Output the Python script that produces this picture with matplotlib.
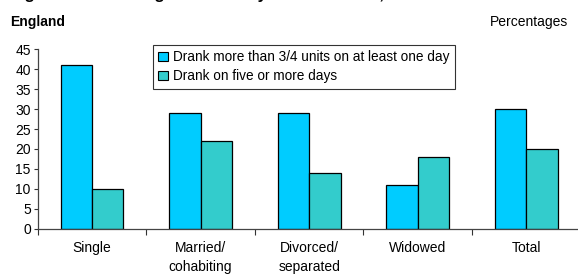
import numpy as np
import matplotlib.pyplot as plt

plt.rcParams['font.family'] = ['Liberation Sans', 'DejaVu Sans']

categories = ['Single', 'Married/\ncohabiting', 'Divorced/\nseparated', 'Widowed', 'Total']
more_than_units = [41, 29, 29, 11, 30]
five_or_more_days = [10, 22, 14, 18, 20]
series_labels = ['Drank more than 3/4 units on at least one day',
                 'Drank on five or more days']

W, H = 578, 275
fig = plt.figure(figsize=(W / 100, H / 100), dpi=100)
ax = fig.add_axes([37.7 / W, 1 - 228.7 / H, (580.6 - 37.7) / W, (228.7 - 49.3) / H])

x = np.arange(len(categories))
bw = 0.29
ax.bar(x - bw / 2, more_than_units, bw, color='#00CCFF', edgecolor='black', linewidth=0.9,
       label=series_labels[0])
ax.bar(x + bw / 2, five_or_more_days, bw, color='#33CCCC', edgecolor='black', linewidth=0.9,
       label=series_labels[1])

ax.set_xlim(-0.5, len(categories) - 0.5)
ax.set_ylim(0, 45)
ax.set_yticks(range(0, 46, 5))
ax.set_xticks(x)
ax.set_xticklabels(categories, fontsize=10, linespacing=1.45)
ax.set_xticks(np.arange(-0.5, len(categories), 1), minor=True)
ax.tick_params(axis='x', which='major', length=0, pad=9)
ax.tick_params(axis='x', which='minor', length=4, width=0.8, color='#333333', direction='out')
ax.tick_params(axis='y', labelsize=10, length=3, width=0.8, color='#333333', pad=2)
for s in ['top', 'right']:
    ax.spines[s].set_visible(False)
for s in ['left', 'bottom']:
    ax.spines[s].set_color('#444444')
    ax.spines[s].set_linewidth(0.9)

leg = ax.legend(loc='upper left', bbox_to_anchor=((153 - 37.7) / (580.6 - 37.7), 1.024),
                fontsize=9.8, frameon=True, fancybox=False, edgecolor='black',
                handlelength=0.7, handleheight=0.7, handletextpad=0.4,
                borderpad=0.38, labelspacing=0.38, borderaxespad=0)
leg.get_frame().set_linewidth(0.8)
for h in leg.legend_handles:
    h.set_linewidth(0.8)

fig.text(10 / W, 1 - 22 / H, 'England', fontsize=10, fontweight='bold', va='center')
fig.text(568 / W, 1 - 22 / H, 'Percentages', fontsize=10, ha='right', va='center')
fig.text(10 / W, 1 + 1.5 / H, 'Figure 8.8  Drinking last week by marital status, 1998',
         fontsize=12, fontweight='bold', va='baseline')

fig.savefig('out.png', dpi=100)
